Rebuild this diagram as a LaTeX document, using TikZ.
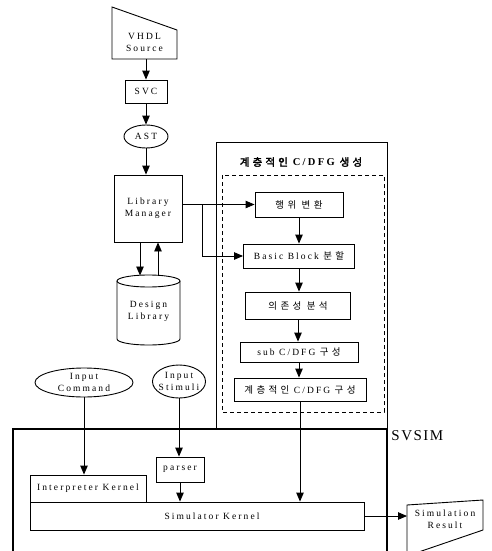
\documentclass[tikz,border=0pt]{standalone}
\usepackage{fontspec}
\setmainfont{Liberation Serif}[LetterSpace=22]
\newfontfamily\bigserif{Liberation Serif}[LetterSpace=10]
\newfontfamily\kor{Noto Sans CJK KR}[LetterSpace=35]
\newfontfamily\korb{Noto Sans CJK KR}[LetterSpace=30,FakeBold=2.5]
\usetikzlibrary{arrows.meta,calc}
\begin{document}
\begin{tikzpicture}[x=1pt,y=-1pt,line width=0.9pt,
 txt/.style={font=\fontsize{9.5}{12}\selectfont, align=center, inner sep=0pt},
 box/.style={txt, draw, rectangle},
 arr/.style={-{Triangle[length=9pt,width=7.5pt]}},
 thickframe/.style={line width=1.9pt},
 grpframe/.style={line width=1pt},
 dashframe/.style={line width=0.7pt, dash pattern=on 4pt off 3pt}]
\useasboundingbox (0,0) rectangle (492,551);

% VHDL source (manual input)
\draw (112,7) -- (177,30) -- (177,59) -- (112,59) -- cycle;
\node[txt] (vhdl) at (144.5,42) {VHDL\\Source};
\coordinate (vhdlb) at (146,59);

\node[box, minimum width=42pt, minimum height=23pt] (svc) at (146,91.5) {SVC};
\node[txt, minimum width=44pt, minimum height=23pt] (ast) at (146,136.5) {AST};
\draw (ast.center) ellipse [x radius=22pt, y radius=11.5pt];
\node[box, minimum width=68pt, minimum height=67pt] (lib) at (148,208.5) {Library\\Manager};

% Design library cylinder
\node[txt, minimum width=63pt, minimum height=70pt] (dlib) at (148.5,311) {Design\\Library};
\draw (117,281) -- (117,339) arc[start angle=180,end angle=360,x radius=31.5pt,y radius=6pt] -- (180,281);
\draw (148.5,281) ellipse [x radius=31.5pt, y radius=6pt];
\coordinate (cyltop) at (148.5,275.5);

\draw[arr] (vhdlb) -- (vhdlb |- svc.north);
\draw[arr] (svc.south) -- (svc.south |- ast.north);
\draw[arr] (ast.south) -- (ast.south |- lib.north);
\draw[arr] ([xshift=-8pt]lib.south) -- ([xshift=-8pt]lib.south |- cyltop);
\draw[arr] ([xshift=10pt]lib.south |- cyltop) -- ([xshift=10pt]lib.south);

% hierarchical C/DFG generation group
\draw[grpframe] (216,142) rectangle (387,429);
\draw[dashframe] (222,175) rectangle (384,412);
\node[font=\fontsize{10.5}{12}\selectfont, inner sep=0pt] (ttl) at (301,162) {{\korb 계층적인} {\bfseries C/DFG} {\korb 생성}};

\node[box, minimum width=88pt, minimum height=25pt] (b1) at (299,204.5) {{\kor 행위 변환}};
\node[box, minimum width=111pt, minimum height=24pt] (b2) at (299,256) {Basic Block {\kor 분할}};
\node[box, minimum width=105pt, minimum height=27pt] (b3) at (298,305.5) {{\kor 의존성 분석}};
\node[box, minimum width=118pt, minimum height=20pt] (b4) at (299,352) {sub C/DFG {\kor 구성}};
\node[box, minimum width=132pt, minimum height=23pt] (b5) at (300,389.5) {{\kor 계층적인} C/DFG {\kor 구성}};

\draw[arr] (b1.south) -- (b1.south |- b2.north);
\draw[arr] (b2.south) -- (b2.south |- b3.north);
\draw[arr] (b3.south) -- (b3.south |- b4.north);
\draw[arr] (b4.south) -- (b4.south |- b5.north);

\coordinate (br) at (202,204.5);
\draw (lib.east |- b1) -- (br);
\draw[arr] (br) -- (b1.west);
\draw[arr] (br) |- (b2.west);

% SVSIM frame
\coordinate (sv1) at (13,556);
\coordinate (sv2) at (13,429);
\coordinate (sv3) at (387,429);
\coordinate (sv4) at (387,556);
\draw[thickframe] (sv1) -- (sv2) -- (sv3) -- (sv4);
\node[anchor=west, inner sep=0pt, font=\bigserif\fontsize{15}{15}\selectfont] (svl) at (391,436) {SVSIM};

% inputs
\node[txt, minimum width=98pt, minimum height=29pt] (ic) at (84,382.5) {Input\\Command};
\draw (ic.center) ellipse [x radius=49pt, y radius=14.5pt];
\node[txt, minimum width=53pt, minimum height=33pt] (is) at (179,381.5) {Input\\Stimuli};
\draw (is.center) ellipse [x radius=26.5pt, y radius=16.5pt];

\node[box, minimum width=48pt, minimum height=25pt] (parser) at (180,469.5) {parser};
\node[box, minimum width=116pt, minimum height=27pt] (interp) at (88,488.5) {Interpreter Kernel};
\node[box, minimum width=334pt, minimum height=28pt] (simk) at (197,516) {\hspace*{30pt}Simulator Kernel};

\draw[arr] (ic.south) -- (ic.south |- interp.north);
\draw[arr] (is.south) -- (is.south |- parser.north);
\draw[arr] (parser.south) -- (parser.south |- simk.north);
\draw[arr] (b5.south) -- (b5.south |- simk.north);

% Simulation result
\draw (407,505) -- (483,500) -- (483,530) -- (407,556) -- cycle;
\node[txt] (sr) at (445,519) {Simulation\\Result};
\coordinate (srl) at (407,516);
\draw[arr] (simk.east) -- (srl);
\end{tikzpicture}
\end{document}
